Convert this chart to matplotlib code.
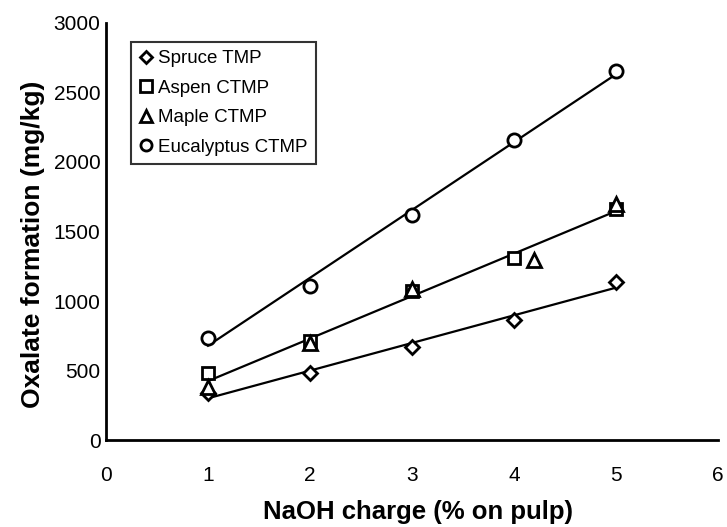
import numpy as np
import matplotlib
matplotlib.use("Agg")
import matplotlib.pyplot as plt
from matplotlib.lines import Line2D

plt.rcParams['font.family'] = ['Liberation Sans', 'DejaVu Sans']

# NaOH charge (% on pulp) and oxalate formation (mg/kg) per pulp
spruce_x = [1, 2, 3, 4, 5]
spruce_y = [335, 483, 670, 865, 1139]

aspen_x = [1, 2, 3, 4, 5]
aspen_y = [480, 714, 1074, 1312, 1665]

maple_x = [1, 2, 3, 4.2, 5]
maple_y = [385, 700, 1090, 1298, 1700]

euca_x = [1, 2, 3, 4, 5]
euca_y = [735, 1110, 1622, 2156, 2653]

x_ticks = [0, 1, 2, 3, 4, 5, 6]
y_ticks = [0, 500, 1000, 1500, 2000, 2500, 3000]

fig = plt.figure(figsize=(7.27, 5.27), dpi=100)
ax = fig.add_axes([0.1458, 0.165, 0.842, 0.7914])

mk = dict(linestyle='none', markerfacecolor='white', markeredgecolor='black',
          markeredgewidth=2.0, zorder=3)


def trend(xs, ys):
    slope, icpt = np.polyfit(xs, ys, 1)
    xx = np.array([min(xs), max(xs)])
    ax.plot(xx, icpt + slope * xx, color='black', lw=1.6, zorder=2)


# linear trendlines
trend(spruce_x, spruce_y)
trend(aspen_x + maple_x, aspen_y + maple_y)
trend(euca_x, euca_y)

ax.plot(spruce_x, spruce_y, marker='D', markersize=7, **mk)
ax.plot(aspen_x, aspen_y, marker='s', markersize=9, **mk)
ax.plot(maple_x, maple_y, marker='^', markersize=10, **mk)
ax.plot(euca_x, euca_y, marker='o', markersize=9.5, **mk)

ax.set_xlim(0, 6)
ax.set_ylim(0, 3000)
ax.set_xticks(x_ticks)
ax.set_yticks(y_ticks)
ax.tick_params(axis='both', length=0, labelsize=15)
ax.tick_params(axis='x', pad=19)
ax.tick_params(axis='y', pad=4)

for side in ('top', 'right'):
    ax.spines[side].set_visible(False)
for side in ('left', 'bottom'):
    ax.spines[side].set_linewidth(2.0)

ax.set_xlabel('NaOH charge (% on pulp)', fontsize=18.5, fontweight='bold')
ax.set_ylabel('Oxalate formation (mg/kg)', fontsize=19, fontweight='bold')
ax.xaxis.set_label_coords(0.51, -0.143)
ax.yaxis.set_label_coords(-0.10, 0.47)

handles = [
    Line2D([], [], marker='D', markersize=6, **mk),
    Line2D([], [], marker='s', markersize=8, **mk),
    Line2D([], [], marker='^', markersize=8.5, **mk),
    Line2D([], [], marker='o', markersize=8, **mk),
]
labels = ['Spruce TMP', 'Aspen CTMP', 'Maple CTMP', 'Eucalyptus CTMP']
leg = ax.legend(handles, labels, loc='upper left', bbox_to_anchor=(0.041, 0.955),
                fontsize=13.5, frameon=True, fancybox=False, handlelength=0.7,
                handletextpad=0.3, borderpad=0.45, labelspacing=0.66,
                borderaxespad=0)
leg.get_frame().set_edgecolor('black')
leg.get_frame().set_linewidth(1.5)

fig.savefig('out.png', dpi=100)
